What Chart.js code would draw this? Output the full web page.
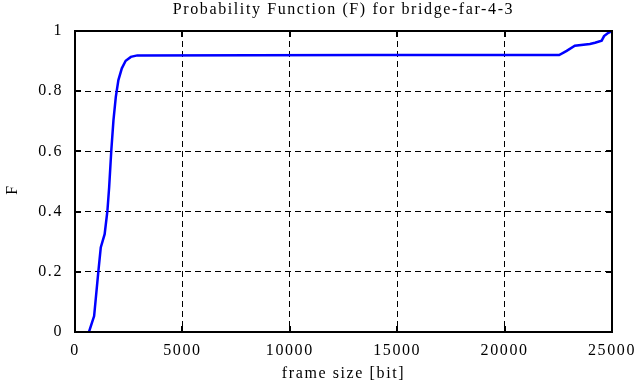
<!DOCTYPE html>
<html>
<head>
<meta charset="utf-8">
<script src="https://cdn.jsdelivr.net/npm/chart.js@4/dist/chart.umd.min.js"></script>
<style>
  html, body { margin: 0; padding: 0; background: #fff; }
  #wrap { width: 639px; height: 387px; }
</style>
</head>
<body>
<div id="wrap"><canvas id="cdf"></canvas></div>
<script>
// values
const frameSize = [650, 890, 1090, 1200, 1380, 1510, 1590, 1690, 1790, 1900, 2020, 2180, 2360, 2600, 2900,
  13700, 22540, 22890, 23270, 23970, 24210, 24520, 24630, 24830, 25000];
const probF = [0, 0.053, 0.203, 0.281, 0.325, 0.403, 0.481, 0.603, 0.703, 0.781, 0.837, 0.876, 0.901, 0.914, 0.919,
  0.92, 0.92, 0.934, 0.951, 0.957, 0.961, 0.968, 0.983, 0.994, 1.0];
const xTicks = [0, 5000, 10000, 15000, 20000, 25000];
const yTicks = [0, 0.2, 0.4, 0.6, 0.8, 1];

const serif = "'Liberation Serif', 'Times New Roman', serif";
const spacing = "1.6px";

// gnuplot look: letter spacing, frame and inward tick marks
const gnuplotFrame = {
  id: "gnuplotFrame",
  beforeUpdate: (chart) => { chart.ctx.letterSpacing = spacing; },
  afterLayout: (chart) => {
    // centre the title over the plot box, like gnuplot
    if (chart.titleBlock) {
      chart.titleBlock.left = chart.chartArea.left;
      chart.titleBlock.right = chart.chartArea.right;
    }
  },
  beforeDraw: (chart) => { chart.ctx.letterSpacing = spacing; },
  afterDraw: (chart) => {
    const { ctx, chartArea: a, scales } = chart;
    ctx.save();
    ctx.strokeStyle = "#000";
    ctx.lineWidth = 2;
    ctx.setLineDash([]);
    const tl = 6;
    ctx.beginPath();
    xTicks.forEach((v) => {
      const px = Math.round(scales.x.getPixelForValue(v));
      ctx.moveTo(px, a.bottom); ctx.lineTo(px, a.bottom - tl);
      ctx.moveTo(px, a.top); ctx.lineTo(px, a.top + tl);
    });
    yTicks.forEach((v) => {
      const py = Math.round(scales.y.getPixelForValue(v));
      ctx.moveTo(a.left, py); ctx.lineTo(a.left + tl, py);
      ctx.moveTo(a.right, py); ctx.lineTo(a.right - tl, py);
    });
    ctx.stroke();
    ctx.strokeRect(a.left, a.top, a.right - a.left, a.bottom - a.top);
    ctx.restore();
  },
};

const points = frameSize.map((x, i) => ({ x: x, y: probF[i] }));

new Chart("cdf", {
  type: "line",
  data: {
    datasets: [
      {
        data: points,
        borderColor: "#0000ff",
        borderWidth: 2.5,
        pointRadius: 0,
        tension: 0,
        fill: false,
      },
    ],
  },
  options: {
    responsive: true,
    maintainAspectRatio: false,
    animation: false,
    layout: { padding: 0 },
    plugins: {
      legend: { display: false },
      tooltip: { enabled: false },
      title: {
        display: true,
        text: "Probability Function (F) for bridge-far-4-3",
        color: "#000",
        font: { family: serif, size: 16, weight: "normal", lineHeight: 1.2 },
        padding: { top: 0, bottom: 11.8 },
      },
    },
    scales: {
      x: {
        type: "linear",
        min: 0,
        max: 25000,
        afterBuildTicks: (s) => { s.ticks = xTicks.map((v) => ({ value: v })); },
        afterFit: (s) => { s.height = 55; s.paddingRight = 27; },
        ticks: {
          color: "#000",
          font: { family: serif, size: 16 },
          padding: 9,
          maxRotation: 0,
          callback: (v) => String(v),
        },
        grid: { color: "#000", lineWidth: 1, drawTicks: false },
        border: { display: false, dash: [6, 4] },
        title: {
          display: true,
          text: "frame size [bit]",
          color: "#000",
          font: { family: serif, size: 16 },
          padding: { top: 0, bottom: 4 },
        },
      },
      y: {
        min: 0,
        max: 1,
        afterBuildTicks: (s) => { s.ticks = yTicks.map((v) => ({ value: v })); },
        afterFit: (s) => { s.width = 75; },
        ticks: {
          color: "#000",
          font: { family: serif, size: 16 },
          padding: 12,
          callback: (v) => String(v),
        },
        grid: { color: "#000", lineWidth: 1, drawTicks: false },
        border: { display: false, dash: [6, 4] },
        title: {
          display: true,
          // trailing spaces push the label a little below centre, as in the original
          text: "F\u00a0\u00a0\u2009",
          color: "#000",
          font: { family: serif, size: 16 },
          padding: { top: 3, bottom: 0 },
        },
      },
    },
  },
  plugins: [gnuplotFrame],
});
</script>
</body>
</html>
